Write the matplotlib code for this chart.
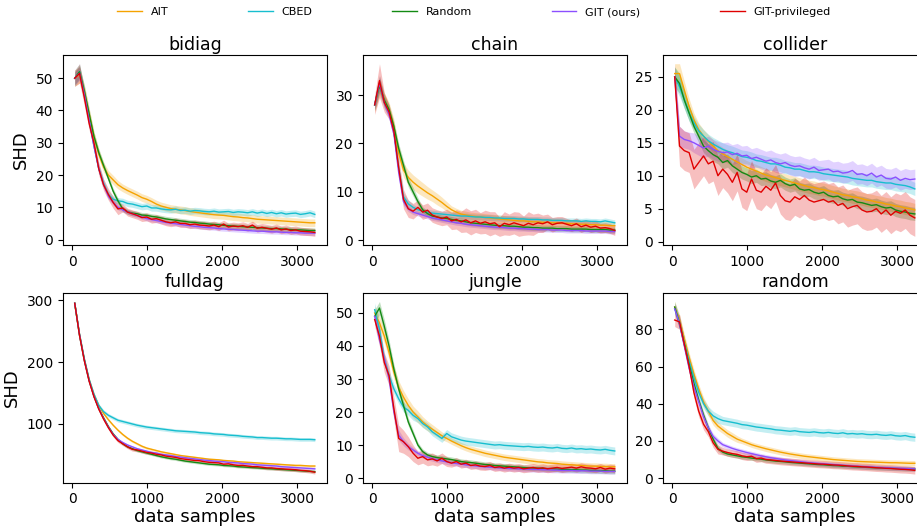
import matplotlib
matplotlib.use("Agg")
import matplotlib.pyplot as plt
import numpy as np

# sample sizes (x axis)
samples = list(range(32, 3233, 64))

methods = ["AIT", "CBED", "Random", "GIT (ours)", "GIT-privileged"]
colors = ["#f5a300", "#17becf", "#138a13", "#8c4fff", "#e00000"]
panels = ["bidiag", "chain", "collider", "fulldag", "jungle", "random"]

# ---------------- bidiag ----------------
bidiag_ait = [50, 51, 46, 39, 32, 26.5, 22.5, 20, 18.5, 17, 16, 15.2, 14.5, 13.8, 13.0, 12.5, 11.8, 11.0, 10.4, 10.0,
              9.6, 9.4, 9.2, 9.0, 8.7, 8.5, 8.3, 8.1, 7.9, 7.7, 7.6, 7.5, 7.3, 7.1, 7.0, 6.8, 6.7, 6.5, 6.3, 6.2,
              6.1, 6.0, 5.9, 5.8, 5.7, 5.6, 5.5, 5.4, 5.3, 5.2, 5.2]
bidiag_cbed = [50, 52, 45, 37, 29, 22, 17.5, 14, 12.5, 12.0, 11.8, 11.2, 11.0, 10.6, 10.2, 10.4, 9.8, 9.8, 9.5, 9.3,
               9.2, 9.4, 9.0, 9.1, 8.8, 9.0, 8.9, 8.7, 8.6, 8.8, 8.5, 8.6, 8.7, 8.4, 8.6, 8.5, 8.3, 8.6, 8.2, 8.5,
               8.1, 8.4, 8.0, 8.3, 7.9, 8.1, 8.2, 7.8, 8.0, 8.3, 7.8]
bidiag_rand = [50, 52, 46, 39, 32, 27, 23, 19, 15, 12, 9.5, 8.6, 8.2, 8.0, 7.6, 7.5, 7.2, 7.0, 6.7, 6.4,
               6.2, 6.0, 5.8, 5.6, 5.4, 5.3, 5.1, 5.0, 4.8, 4.7, 4.6, 4.4, 4.3, 4.2, 4.1, 4.0, 3.9, 3.8, 3.7, 3.6,
               3.5, 3.4, 3.4, 3.3, 3.2, 3.1, 3.0, 3.0, 2.9, 2.8, 2.8]
bidiag_git = [50, 51.5, 45, 37, 29, 22, 17, 13.5, 11.5, 10.0, 9.2, 8.6, 8.0, 7.5, 7.0, 6.5, 6.2, 5.9, 5.6, 5.3,
              5.1, 4.9, 4.7, 4.5, 4.3, 4.1, 4.0, 3.8, 3.7, 3.6, 3.4, 3.3, 3.2, 3.1, 3.0, 2.9, 2.8, 2.7, 2.6, 2.6,
              2.5, 2.4, 2.4, 2.3, 2.2, 2.2, 2.1, 2.1, 2.0, 2.0, 2.0]
bidiag_priv = [50, 51.5, 44, 36, 30, 22, 17, 14, 11.5, 9.5, 9.8, 8.5, 8.0, 7.5, 6.8, 7.0, 6.3, 6.5, 6.0, 5.5,
               5.2, 5.5, 5.0, 5.0, 4.6, 4.8, 4.5, 4.4, 4.2, 4.5, 4.0, 4.8, 3.9, 4.2, 4.0, 4.3, 3.8, 4.5, 3.5, 3.8,
               3.5, 3.2, 3.6, 3.0, 3.3, 2.8, 3.0, 2.6, 2.5, 2.4, 2.2]
bidiag_ait_sd = [2.5, 2.5, 2.0, 1.8, 1.6, 1.5, 1.5, 1.4, 1.4, 1.3] + [1.2] * 41
bidiag_cbed_sd = [2.5, 2.5, 2.0, 1.8, 1.5, 1.3, 1.2, 1.1, 1.1, 1.0] + [1.0] * 41
bidiag_rand_sd = [2.0, 2.0, 1.8, 1.5, 1.3, 1.2, 1.0, 1.0, 0.9, 0.9] + [0.8] * 41
bidiag_git_sd = [2.0, 2.0, 1.8, 1.5, 1.3, 1.2, 1.0, 0.9, 0.8, 0.8] + [0.7] * 41
bidiag_priv_sd = [2.5, 3.0, 2.5, 2.0, 2.0, 2.0, 1.8, 1.8, 1.8, 1.8] + [1.2] * 41

# ---------------- chain ----------------
chain_ait = [28, 32, 29, 27, 23.5, 18, 14.5, 13, 12, 11.2, 10.5, 9.8, 9.2, 8.5, 7.8, 7.0, 6.3, 5.8, 5.4, 5.2,
             5.0, 4.9, 4.8, 4.7, 4.6, 4.5, 4.4, 4.3, 4.2, 4.1, 4.0, 4.0, 3.9, 3.8, 3.8, 3.7, 3.7, 3.6, 3.6, 3.5,
             3.5, 3.4, 3.4, 3.3, 3.3, 3.2, 3.2, 3.1, 3.1, 3.0, 3.0]
chain_cbed = [28, 32.5, 28.5, 26.5, 22.5, 15, 9, 7.5, 6.8, 6.3, 6.0, 5.8, 5.6, 5.5, 5.4, 5.3, 5.2, 5.1, 5.0, 5.0,
              4.9, 4.8, 4.8, 4.7, 4.7, 4.6, 4.6, 4.5, 4.5, 4.5, 4.4, 4.4, 4.3, 4.3, 4.3, 4.2, 4.2, 4.1, 4.1, 4.1,
              4.0, 4.0, 4.0, 3.9, 4.0, 3.9, 3.9, 3.8, 4.0, 3.8, 3.6]
chain_rand = [28, 32, 29, 27, 23.5, 19, 15.5, 12, 10, 8, 6.3, 5.5, 5.0, 4.8, 4.6, 4.5, 4.3, 4.1, 4.0, 3.8,
              3.6, 3.5, 3.4, 3.3, 3.2, 3.1, 3.0, 3.0, 2.9, 2.9, 2.8, 2.7, 2.7, 2.6, 2.6, 2.5, 2.5, 2.5, 2.4, 2.4,
              2.4, 2.3, 2.3, 2.3, 2.3, 2.2, 2.2, 2.2, 2.2, 2.1, 2.1]
chain_git = [28, 32.5, 28.5, 26, 22, 14, 8, 6.5, 5.8, 5.5, 5.2, 4.9, 4.6, 4.4, 4.2, 4.0, 3.8, 3.6, 3.5, 3.3,
             3.2, 3.1, 3.0, 2.9, 2.8, 2.7, 2.7, 2.6, 2.5, 2.5, 2.4, 2.4, 2.3, 2.3, 2.2, 2.2, 2.2, 2.1, 2.1, 2.1,
             2.0, 2.0, 2.0, 2.0, 1.9, 1.9, 1.9, 1.9, 1.9, 1.8, 1.8]
chain_priv = [28, 33, 28.5, 26.5, 22.5, 15, 8.5, 6.5, 6.0, 6.8, 5.8, 6.2, 5.2, 4.8, 4.5, 4.8, 4.0, 4.3, 3.8, 4.2,
              3.6, 4.0, 3.5, 3.8, 3.4, 3.6, 2.8, 3.5, 3.2, 3.6, 3.3, 3.0, 3.5, 3.2, 3.6, 3.4, 3.8, 3.2, 3.5, 3.6,
              3.3, 3.0, 3.4, 2.8, 3.1, 2.7, 2.9, 2.5, 2.6, 2.4, 2.0]
chain_ait_sd = [1.5, 2.0, 1.5, 1.5, 1.5, 1.5, 1.5, 1.5, 1.5, 1.5, 1.4, 1.3, 1.2, 1.2, 1.1, 1.0] + [0.8] * 35
chain_cbed_sd = [1.2, 1.5, 1.2, 1.0, 1.0, 1.0, 0.8, 0.8] + [0.6] * 43
chain_rand_sd = [1.2, 1.5, 1.2, 1.0, 1.0, 1.0, 1.0, 1.0, 0.9, 0.8] + [0.6] * 41
chain_git_sd = [1.0, 1.5, 1.0, 1.0, 1.0, 1.0, 0.8, 0.6] + [0.5] * 43
chain_priv_sd = [2.0, 3.5, 2.0, 1.5, 1.5, 2.0, 2.0, 1.8, 1.6, 1.5, 1.5, 1.5, 1.5, 1.5, 1.5, 1.6, 1.8, 2.0, 2.2, 2.5,
                 2.5, 2.4, 2.2, 2.4, 2.5, 2.3, 2.0, 2.4, 2.2, 2.3, 2.5, 2.0, 2.4, 2.2, 2.0, 1.8, 1.6, 1.5, 1.4, 1.3,
                 1.2, 1.2, 1.2, 1.2, 1.1, 1.1, 1.1, 1.0, 1.0, 1.0, 1.0]

# ---------------- collider ----------------
collider_ait = [25.5, 25.5, 23.0, 20.5, 18.5, 17.0, 16.0, 15.2, 14.5, 13.8, 13.3, 12.9, 12.5, 12.1, 11.7, 11.3, 11.0,
                10.7, 10.4, 10.1, 9.9, 9.7, 9.5, 9.3, 9.1, 8.9, 8.7, 8.5, 8.3, 8.2, 8.0, 7.9, 7.7, 7.5, 7.3, 7.1,
                7.0, 6.8, 6.7, 6.5, 6.3, 6.2, 6.0, 5.9, 5.7, 5.6, 5.4, 5.3, 5.1, 5.0, 4.8]
collider_cbed = [25, 23.5, 21.5, 19.5, 18.0, 16.8, 16.0, 15.3, 14.8, 14.4, 14.0, 13.7, 13.5, 13.2, 12.9, 12.8, 12.6,
                 12.3, 12.2, 12.0, 11.8, 11.8, 11.6, 11.3, 11.2, 11.0, 11.0, 10.8, 10.6, 10.6, 10.5, 10.3, 10.2, 10.1,
                 10.0, 9.9, 9.8, 9.6, 9.5, 9.4, 9.3, 9.3, 9.1, 9.0, 8.9, 8.9, 8.7, 8.6, 8.5, 8.3, 8.0]
collider_rand = [25, 24.0, 21.5, 19.5, 17.5, 16.0, 14.5, 13.8, 13.2, 12.8, 12.0, 12.3, 11.5, 11.0, 10.5, 10.2, 9.8,
                 10.0, 9.5, 9.6, 9.2, 9.0, 9.3, 8.8, 8.5, 8.7, 8.0, 7.8, 7.9, 7.5, 7.3, 7.5, 7.0, 6.8, 6.9, 6.5,
                 6.3, 6.4, 6.0, 5.9, 5.7, 5.5, 5.6, 5.3, 5.1, 5.2, 4.8, 4.6, 4.5, 4.3, 4.2]
collider_git = [25, 16.0, 15.5, 15.3, 15.0, 14.6, 14.2, 14.5, 14.0, 13.7, 13.5, 13.6, 13.2, 13.4, 13.0, 13.1, 12.6,
                12.8, 12.5, 12.2, 12.4, 12.0, 11.8, 12.0, 11.6, 11.4, 11.5, 11.2, 11.0, 11.3, 10.8, 10.9, 11.0, 10.6,
                10.7, 10.4, 10.5, 10.8, 10.2, 10.3, 10.0, 10.4, 9.8, 10.1, 9.6, 9.5, 9.8, 9.3, 9.6, 9.4, 9.5]
collider_priv = [25, 14.5, 13.8, 13.5, 11.0, 12.0, 13.0, 11.8, 12.2, 10.0, 11.0, 10.2, 9.0, 10.5, 8.0, 7.5, 9.5, 7.8,
                 7.5, 8.4, 7.8, 8.9, 7.0, 6.2, 6.0, 6.8, 6.4, 7.0, 6.3, 6.0, 6.2, 6.4, 6.0, 6.2, 5.5, 5.8, 5.0, 5.3,
                 5.5, 4.8, 4.5, 4.6, 5.0, 4.2, 4.8, 4.0, 4.6, 4.3, 4.8, 4.0, 3.6]
collider_ait_sd = [1.5, 1.5, 1.3, 1.2] + [1.0] * 47
collider_cbed_sd = [1.5, 1.5, 1.3, 1.2] + [1.0] * 47
collider_rand_sd = [1.5, 1.5, 1.3, 1.2] + [1.0] * 47
collider_git_sd = [1.5, 1.5, 1.3, 1.3] + [1.5] * 47
collider_priv_sd = [2.0, 3.0, 3.0, 3.0, 3.0, 3.0, 3.0, 3.0, 3.0, 3.0] + [2.8] * 41

# ---------------- fulldag ----------------
fulldag_ait = [295, 245, 205, 172, 148, 130, 117, 107, 98, 90, 83, 77, 72, 68, 64, 61, 59, 57, 55, 53.5, 52, 50.5,
               49, 48, 47, 46, 45, 44, 43, 42.5, 42, 41, 40.5, 40, 39, 38.5, 38, 37.5, 37, 36.5, 36, 35.5, 35, 34.5,
               34, 33.5, 33, 33, 32.5, 32, 32]
fulldag_cbed = [295, 245, 205, 172, 148, 130, 120, 114, 110, 106, 104, 102, 100, 98, 96.5, 95, 94, 93, 92, 91, 90,
                89, 88.5, 88, 87.5, 87, 86, 85.5, 85, 84, 83.5, 83, 82, 81.5, 81, 80, 79.5, 79, 78, 78, 77.5, 77, 77,
                76.5, 76, 76, 75.5, 75, 75, 75, 74.5]
fulldag_rand = [295, 243, 203, 170, 145, 125, 110, 96, 84, 75, 68, 63, 60, 57, 55, 53, 51, 49, 47, 45.5, 44, 43,
                41.5, 40, 39, 38, 37, 36, 35, 34.5, 34, 33, 32.5, 32, 31, 30.5, 30, 29.5, 29, 28.5, 28, 27.5, 27,
                26.5, 26, 25.5, 25, 24.5, 24, 23.5, 23]
fulldag_git = [295, 244, 203, 170, 145, 125, 109, 95, 83, 75, 70, 66, 63, 60, 58, 56, 54, 53, 51, 50, 49, 47.5,
               46.5, 45.5, 44.5, 43.5, 42.5, 41.5, 41, 40, 39.5, 39, 38, 37.5, 37, 36, 35.5, 35, 34, 33.5, 33, 32.5,
               32, 31, 30.5, 30, 29.5, 29, 28.5, 28, 27.5]
fulldag_priv = [295, 243, 202, 169, 144, 124, 108, 94, 82, 73, 68, 63, 59, 58, 56, 54, 53, 51, 50, 48, 47, 46, 44,
                43, 42, 41, 40.5, 39, 38, 37.5, 37, 35, 35.5, 34, 33, 33, 32, 31, 31, 30, 29, 29, 28, 27.5, 27, 26.5,
                26, 25, 24.5, 23.5, 22]
fulldag_ait_sd = [3.0, 3.0, 2.5] + [2.0] * 48
fulldag_cbed_sd = [3.0, 3.0, 3.0] + [3.0] * 48
fulldag_rand_sd = [3.0, 3.0, 2.5] + [2.0] * 48
fulldag_git_sd = [3.0, 3.0, 2.5] + [2.0] * 48
fulldag_priv_sd = [3.0, 3.0, 3.0] + [3.0] * 48

# ---------------- jungle ----------------
jungle_ait = [50, 47, 43, 38, 32, 27.5, 24.5, 22, 20, 18.5, 17, 15.8, 14.8, 13.8, 12.8, 12.0, 11.2, 10.5, 9.8, 9.2,
              8.7, 8.3, 7.9, 7.5, 7.2, 6.9, 6.6, 6.3, 6.1, 5.9, 5.7, 5.5, 5.3, 5.1, 4.9, 4.8, 4.6, 4.5, 4.4, 4.2,
              4.1, 4.0, 3.9, 3.8, 3.7, 3.6, 3.6, 3.5, 3.5, 3.4, 3.4]
jungle_cbed = [51, 45, 36, 31, 27, 24, 21.5, 20.5, 19, 18, 16.5, 15.5, 14, 13, 12, 13.5, 12.5, 12.0, 11.5, 11.2,
               11.0, 10.8, 10.6, 10.4, 10.2, 10.0, 10.1, 9.9, 9.8, 9.7, 9.6, 9.5, 9.6, 9.4, 9.3, 9.4, 9.2, 9.1, 9.3,
               9.0, 8.9, 9.1, 8.8, 8.9, 8.7, 8.8, 8.6, 8.5, 8.7, 8.4, 8.2]
jungle_rand = [49, 51.5, 46, 40, 33, 27, 22, 17, 13.5, 10, 8, 7, 6.5, 6.2, 6.0, 5.8, 5.6, 5.3, 5.0, 4.8, 4.7, 4.5,
               4.3, 4.1, 4.0, 3.8, 3.7, 3.6, 3.5, 3.4, 3.3, 3.2, 3.1, 3.0, 3.0, 2.9, 2.8, 2.8, 2.7, 2.6, 2.6, 2.5,
               2.5, 2.4, 2.4, 2.3, 2.3, 2.2, 2.2, 2.1, 2.1]
jungle_git = [49, 42, 36, 30, 20, 13, 11, 9.5, 8.5, 7.5, 6.8, 6.3, 5.9, 5.5, 5.2, 4.9, 4.6, 4.4, 4.2, 4.0, 3.8, 3.7,
              3.5, 3.4, 3.3, 3.2, 3.1, 3.0, 2.9, 2.9, 2.8, 2.7, 2.7, 2.6, 2.6, 2.5, 2.5, 2.4, 2.4, 2.3, 2.3, 2.3,
              2.2, 2.2, 2.2, 2.1, 2.1, 2.1, 2.0, 2.0, 2.0]
jungle_priv = [48, 43, 35, 31, 21, 12, 11, 9.5, 7.5, 6.0, 6.5, 5.5, 5.8, 5.2, 6.0, 5.0, 4.5, 5.0, 4.2, 4.5, 3.8,
               4.0, 3.6, 3.5, 3.8, 3.2, 3.4, 3.0, 3.3, 3.0, 3.2, 2.8, 3.0, 3.2, 2.9, 3.1, 2.8, 3.0, 3.2, 2.9, 3.1,
               3.3, 3.0, 3.4, 3.1, 3.0, 2.8, 3.2, 2.7, 3.0, 2.8]
jungle_ait_sd = [2.0, 2.0, 2.0, 2.0, 2.0, 2.0, 2.0, 2.0, 1.8, 1.8, 1.6, 1.5, 1.4, 1.3, 1.2] + [1.0] * 36
jungle_cbed_sd = [2.0, 2.0, 1.5, 1.5, 1.5, 1.5, 1.5, 1.5, 1.5] + [1.2] * 42
jungle_rand_sd = [2.0, 2.0, 2.0, 1.8, 1.5, 1.5, 1.5, 1.2, 1.0] + [0.8] * 42
jungle_git_sd = [2.0, 1.8, 1.5, 1.5, 1.5, 1.5, 1.2, 1.0] + [0.8] * 43
jungle_priv_sd = [2.0, 3.0, 3.0, 3.0, 3.5, 4.0, 3.5, 3.0, 2.5, 2.0, 2.0, 1.8, 1.8, 1.6, 1.6, 1.5] + [1.2] * 35

# ---------------- random ----------------
random_ait = [92, 85, 75, 65, 56, 48, 41, 36, 31, 28, 26, 24, 22.5, 21, 20, 19, 18, 17.2, 16.5, 15.8, 15.2, 14.6,
              14.0, 13.5, 13.0, 12.6, 12.2, 11.8, 11.5, 11.2, 10.9, 10.6, 10.3, 10.0, 9.8, 9.6, 9.4, 9.2, 9.0, 8.9,
              8.8, 8.7, 8.6, 8.5, 8.4, 8.3, 8.3, 8.2, 8.1, 8.0, 8.0]
random_cbed = [91, 84, 73, 63, 54, 46, 40, 36, 33.5, 32, 31, 30.5, 30, 29.5, 28.8, 28.5, 28.0, 27.5, 27.2, 26.8,
               26.5, 26.0, 25.8, 25.5, 25.2, 25.5, 25.0, 24.8, 24.6, 24.9, 24.5, 24.3, 24.6, 24.2, 24.0, 24.4, 23.8,
               24.0, 23.7, 23.9, 23.5, 23.4, 23.6, 23.2, 23.0, 23.3, 22.8, 22.6, 22.9, 22.3, 22.0]
random_rand = [92, 83, 72, 61, 51, 42, 34, 27, 21, 16, 14, 13, 12.5, 12.0, 11.5, 11.2, 10.8, 10.5, 10.2, 9.8, 9.5,
               9.2, 9.0, 8.8, 8.5, 8.3, 8.1, 7.9, 7.7, 7.5, 7.3, 7.2, 7.0, 6.8, 6.7, 6.5, 6.4, 6.2, 6.1, 6.0, 5.8,
               5.7, 5.6, 5.5, 5.4, 5.3, 5.2, 5.1, 5.0, 5.0, 4.9]
random_git = [91, 83, 71, 59, 49, 41, 33, 27, 22.5, 20, 18, 17, 16, 15.2, 14.5, 13.8, 13.2, 12.6, 12.0, 11.5, 11.0,
              10.6, 10.2, 9.8, 9.5, 9.2, 8.9, 8.6, 8.3, 8.1, 7.9, 7.7, 7.5, 7.3, 7.1, 6.9, 6.7, 6.5, 6.4, 6.2, 6.1,
              6.0, 5.8, 5.7, 5.6, 5.5, 5.4, 5.3, 5.2, 5.1, 5.0]
random_priv = [85, 84, 72, 60, 46, 36, 29, 25, 19, 15.5, 14.5, 13.8, 13.2, 12.8, 12.0, 11.5, 11.8, 10.5, 10.8, 10.0,
               9.8, 9.5, 9.2, 9.0, 8.8, 8.6, 8.4, 8.2, 8.0, 7.8, 7.6, 7.5, 7.3, 7.1, 7.0, 6.8, 6.6, 6.4, 6.3, 6.1,
               6.0, 5.8, 5.6, 5.5, 5.3, 5.2, 5.0, 4.8, 4.7, 4.5, 4.2]
random_ait_sd = [3.0, 3.0, 2.5, 2.5, 2.5, 2.5, 2.5, 2.5, 2.5, 2.2, 2.0, 2.0, 2.0, 1.8] + [1.5] * 37
random_cbed_sd = [3.0, 3.0, 2.5, 2.5, 2.5, 2.5, 2.5, 2.5, 2.5, 2.5] + [2.2] * 41
random_rand_sd = [3.0, 3.0, 2.5, 2.0, 2.0, 2.0, 2.0, 1.8, 1.6, 1.5] + [1.2] * 41
random_git_sd = [3.0, 3.0, 2.5, 2.0, 2.0, 2.0, 2.0, 1.8, 1.6, 1.5] + [1.2] * 41
random_priv_sd = [3.5, 4.0, 3.0, 3.0, 3.0, 3.0, 3.0, 2.8, 2.5, 2.5] + [2.0] * 41

series = {
    "bidiag": [(bidiag_ait, bidiag_ait_sd), (bidiag_cbed, bidiag_cbed_sd), (bidiag_rand, bidiag_rand_sd),
               (bidiag_git, bidiag_git_sd), (bidiag_priv, bidiag_priv_sd)],
    "chain": [(chain_ait, chain_ait_sd), (chain_cbed, chain_cbed_sd), (chain_rand, chain_rand_sd),
              (chain_git, chain_git_sd), (chain_priv, chain_priv_sd)],
    "collider": [(collider_ait, collider_ait_sd), (collider_cbed, collider_cbed_sd), (collider_rand, collider_rand_sd),
                 (collider_git, collider_git_sd), (collider_priv, collider_priv_sd)],
    "fulldag": [(fulldag_ait, fulldag_ait_sd), (fulldag_cbed, fulldag_cbed_sd), (fulldag_rand, fulldag_rand_sd),
                (fulldag_git, fulldag_git_sd), (fulldag_priv, fulldag_priv_sd)],
    "jungle": [(jungle_ait, jungle_ait_sd), (jungle_cbed, jungle_cbed_sd), (jungle_rand, jungle_rand_sd),
               (jungle_git, jungle_git_sd), (jungle_priv, jungle_priv_sd)],
    "random": [(random_ait, random_ait_sd), (random_cbed, random_cbed_sd), (random_rand, random_rand_sd),
               (random_git, random_git_sd), (random_priv, random_priv_sd)],
}

fig = plt.figure(figsize=(9.17, 5.29), dpi=100)

# axes placed by hand; the right column runs slightly past the figure edge, as in the reference
lefts = [0.0684, 0.3955, 0.7227]
bottoms = [0.5369, 0.0875]
w, h = 0.288, 0.359

x = np.array(samples)
for k, name in enumerate(panels):
    r, c = divmod(k, 3)
    ax = fig.add_axes([lefts[c], bottoms[r], w, h])
    for (mean, sd), col, lab in zip(series[name], colors, methods):
        mean = np.array(mean)
        sd = np.array(sd)
        ax.fill_between(x, mean - sd, mean + sd, color=col, alpha=0.25, linewidth=0)
        ax.plot(x, mean, color=col, linewidth=1.0, label=lab)
    ax.set_title(name, fontsize=12.5, pad=4)
    ax.tick_params(labelsize=10)
    ax.set_xticks([0, 1000, 2000, 3000])
    if c == 0:
        ax.set_ylabel("SHD", fontsize=13)
    if r == 1:
        ax.set_xlabel("data samples", fontsize=13, labelpad=1)

handles, labels = fig.axes[0].get_legend_handles_labels()
fig.legend(handles, labels, loc="upper center", bbox_to_anchor=(0.517, 1.005), ncol=5,
           frameon=False, fontsize=8, columnspacing=7.2, handlelength=2.2)

fig.savefig("out.png", dpi=100)
